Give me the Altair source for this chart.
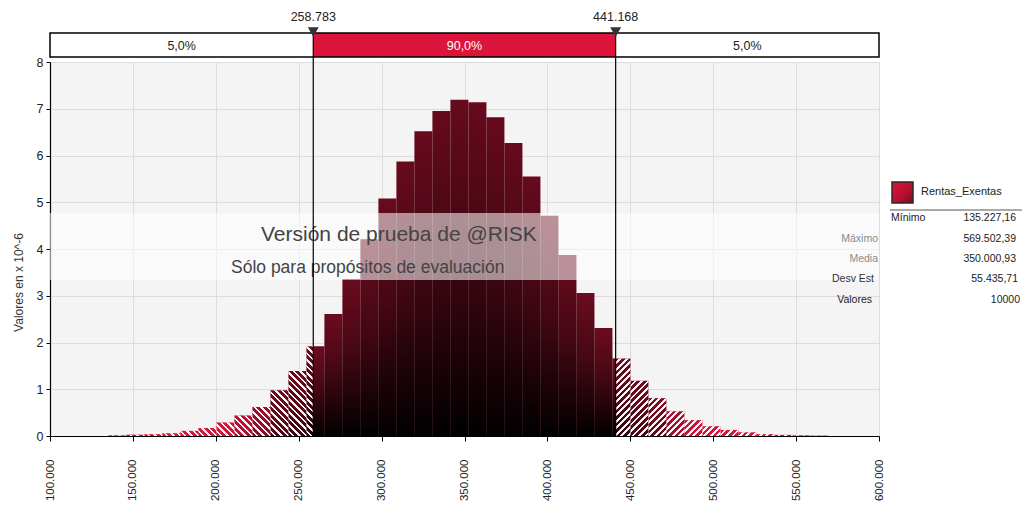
import altair as alt
import pandas as pd

# ---------------- data ----------------
X_MIN = 135227.16
X_MAX = 569502.39
N_BINS = 40
P5 = 258783.0
P95 = 441168.0

# density per bin (x 10^-6)
HEIGHTS = [0.015, 0.03, 0.04, 0.06, 0.11, 0.17, 0.29, 0.44, 0.62, 0.98, 1.39, 1.92,
           2.61, 3.36, 4.21, 5.08, 5.87, 6.52, 6.95, 7.19, 7.14, 6.82, 6.27, 5.55,
           4.71, 3.87, 3.06, 2.31, 1.66, 1.18, 0.81, 0.53, 0.34, 0.21, 0.13, 0.08,
           0.04, 0.025, 0.015, 0.01]

BAND_EDGES = [100000, P5, P95, 600000]
BAND_LABELS = ["5,0%", "90,0%", "5,0%"]
BAND_FILL = ["#ffffff", "#dc143c", "#ffffff"]
BAND_TEXT = ["#222222", "#ffffff", "#222222"]

X_TICKS = list(range(100000, 600001, 50000))
Y_TICKS = list(range(0, 9))

SERIES = "Rentas_Exentas"
STAT_LABELS = ["Mínimo", "Máximo", "Media", "Desv Est", "Valores"]
STAT_VALUES = ["135.227,16", "569.502,39", "350.000,93", "55.435,71", "10000"]

FONT = "Liberation Sans"

# ---------------- layout / style ----------------
W, H = 829, 374
X_DOM = [100000, 600000]
Y_DOM = [0, 8]
PXX = W / (X_DOM[1] - X_DOM[0])
PXY = H / (Y_DOM[1] - Y_DOM[0])
HATCH_PERIOD = 6.5   # px, horizontal spacing of hatch lines
HATCH_COLOR_FRAC = 0.58

# ---------------- tables ----------------
bw = (X_MAX - X_MIN) / N_BINS
rows = []
for i, h in enumerate(HEIGHTS):
    lo = X_MIN + i * bw
    hi = lo + bw
    for a, b, reg in [(lo, min(hi, P5), "L"), (max(lo, P5), min(hi, P95), "C"), (max(lo, P95), hi, "R")]:
        if b > a:
            rows.append(dict(x0=a, x1=b, h=h, reg=reg))
bars = pd.DataFrame(rows)
bars["sid"] = range(len(bars))

bands = pd.DataFrame({
    "a": BAND_EDGES[:-1], "b": BAND_EDGES[1:], "label": BAND_LABELS,
    "fill": BAND_FILL, "tcol": BAND_TEXT,
})
bands["mid"] = (bands["a"] + bands["b"]) / 2
pcts = pd.DataFrame({"p": [P5, P95]})
pcts["label"] = pcts["p"].map(lambda v: f"{v:,.0f}".replace(",", "."))
one = pd.DataFrame({"k": [0]})

xscale = alt.Scale(domain=X_DOM, nice=False, zero=False)
yscale = alt.Scale(domain=Y_DOM, nice=False)

X = alt.X("x0:Q", scale=xscale, title=None,
          axis=alt.Axis(values=X_TICKS, labelAngle=270, labelPadding=18, tickSize=5,
                        labelFontSize=11.5,
                        labelExpr="replace(format(datum.value, ','), ',', '.')",
                        grid=True))
Y = alt.Y("h:Q", scale=yscale, title="Valores en x 10^-6",
          axis=alt.Axis(values=Y_TICKS, tickSize=4, labelPadding=3, grid=True,
                        titleAngle=270, titleX=-32, titleY=220, titleBaseline="middle",
                        titleFontWeight="normal", titleFontSize=12, titleColor="#333333"))

base_bars = alt.Chart(bars).mark_bar(strokeWidth=0).encode(
    x=X, x2="x1:Q", y=Y, y2=alt.datum(0),
    color=alt.Color("h:Q", legend=None,
                    scale=alt.Scale(domain=[0, 0.3, 0.9, 8],
                                    range=["#dc143c", "#d3143b", "#6e0b20", "#650a1d"])),
)

shade = alt.LinearGradient(
    gradient="linear", x1=0, x2=0, y1=0, y2=1,
    stops=[alt.GradientStop(color="rgba(0,0,0,0)", offset=0),
           alt.GradientStop(color="rgba(0,0,0,0.35)", offset=0.45),
           alt.GradientStop(color="rgba(0,0,0,1)", offset=1)])
shade_c = alt.Chart(bars).transform_filter(alt.datum.reg == "C").mark_bar(
    fill=shade, strokeWidth=0).encode(x="x0:Q", x2="x1:Q", y="h:Q", y2=alt.datum(0))
shade_t = alt.Chart(bars).transform_filter(alt.datum.reg != "C").mark_bar(
    fill=shade, strokeWidth=0).encode(
    x="x0:Q", x2="x1:Q", y="h:Q", y2=alt.datum(0),
    opacity=alt.Opacity("h:Q", legend=None,
                        scale=alt.Scale(domain=[0.3, 2.0], range=[0, 0.7], clamp=True)),
)


def stripe_grad(n, frac, p1, p2):
    stops = []
    clear = "rgba(255,255,255,0)"
    white = "rgba(255,255,255,0.95)"
    k = 0
    while k / n < 1:
        a = k / n
        m = min((k + frac) / n, 1)
        b = min((k + 1) / n, 1)
        stops += [alt.GradientStop(color=clear, offset=a), alt.GradientStop(color=clear, offset=m)]
        if m < 1:
            stops += [alt.GradientStop(color=white, offset=m), alt.GradientStop(color=white, offset=b)]
        k += 1
    return alt.LinearGradient(gradient="linear", x1=p1[0], y1=p1[1], x2=p2[0], y2=p2[1], stops=stops)


hatch_layers = []
for _, r in bars[bars.reg != "C"].iterrows():
    w = (r.x1 - r.x0) * PXX
    hp = r.h * PXY
    L = w + hp
    n = L / HATCH_PERIOD
    kk = L / (w * w + hp * hp)
    if r.reg == "L":
        p1, p2 = (0, 1), (kk * w, 1 - kk * hp)
    else:
        p1, p2 = (0, 0), (kk * w, kk * hp)
    hatch_layers.append(
        alt.Chart(bars).transform_filter(alt.datum.sid == int(r.sid)).mark_bar(
            fill=stripe_grad(n, HATCH_COLOR_FRAC, p1, p2), strokeWidth=0).encode(
            x="x0:Q", x2="x1:Q", y="h:Q", y2=alt.datum(0)))

# watermark band + texts
wm_band = alt.Chart(one).mark_rect(fill="white", opacity=0.55).encode(
    x=alt.value(0), x2=alt.value(W), y=alt.value(151), y2=alt.value(218))
wm1 = alt.Chart(one).mark_text(text="Versión de prueba de @RISK", align="left", baseline="middle",
                               fontSize=21, color="#444444", font=FONT).encode(
    x=alt.value(211), y=alt.value(173))
wm2 = alt.Chart(one).mark_text(text="Sólo para propósitos de evaluación", align="left",
                               baseline="middle", fontSize=17.5, color="#444444", font=FONT).encode(
    x=alt.value(181), y=alt.value(206))

# top percentile band
band_rects = alt.Chart(bands).mark_rect(strokeWidth=0).encode(
    x="a:Q", x2="b:Q", y=alt.value(-29), y2=alt.value(-5),
    fill=alt.Fill("fill:N", scale=None))
band_frame = alt.Chart(one).mark_rect(fill=None, stroke="black", strokeWidth=1.5).encode(
    x=alt.datum(BAND_EDGES[0]), x2=alt.datum(BAND_EDGES[-1]), y=alt.value(-29), y2=alt.value(-5))
band_text = alt.Chart(bands).mark_text(fontSize=12.5, baseline="middle", font=FONT).encode(
    x="mid:Q", y=alt.value(-16), text="label:N", color=alt.Color("tcol:N", scale=None))
p_rules = alt.Chart(pcts).mark_rule(color="black", strokeWidth=1.2).encode(
    x="p:Q", y=alt.value(-29), y2=alt.value(H))
p_tri = alt.Chart(pcts).mark_point(shape="triangle-down", filled=True, color="#333333",
                                   size=120, opacity=1).encode(x="p:Q", y=alt.value(-30))
p_text = alt.Chart(pcts).mark_text(fontSize=12.5, baseline="middle", color="#222222", font=FONT).encode(
    x="p:Q", y=alt.value(-45), text="label:N")

# legend / stats panel
swatch_grad = alt.LinearGradient(
    gradient="linear", x1=0, y1=0, x2=1, y2=1,
    stops=[alt.GradientStop(color="#dc143c", offset=0),
           alt.GradientStop(color="#b5102f", offset=0.6),
           alt.GradientStop(color="#7a0a20", offset=1)])
swatch = alt.Chart(one).mark_rect(fill=swatch_grad, stroke="#2a2a2a", strokeWidth=1.5).encode(
    x=alt.value(842), x2=alt.value(863), y=alt.value(120), y2=alt.value(141))
leg_text = alt.Chart(one).mark_text(text=SERIES, align="left", baseline="middle", fontSize=11,
                                    color="#222222", font=FONT).encode(x=alt.value(871), y=alt.value(130))
leg_line = alt.Chart(one).mark_rule(color="#555555", strokeWidth=1).encode(
    x=alt.value(840), x2=alt.value(972), y=alt.value(148))

stat_layers = []
lab_pos = [(841, "left", "#222222"), (828, "right", "#8a8a8a"), (828, "right", "#8a8a8a"),
           (824, "right", "#333333"), (822, "right", "#222222")]
val_pos = [966, 966, 966, 968, 970]
row_y = [156, 177, 197, 217, 238]
for lab, val, (lx, la, lc), vx, ry in zip(STAT_LABELS, STAT_VALUES, lab_pos, val_pos, row_y):
    stat_layers.append(alt.Chart(one).mark_text(text=lab, align=la, baseline="middle", fontSize=10.5,
                                                color=lc, font=FONT).encode(x=alt.value(lx), y=alt.value(ry)))
    stat_layers.append(alt.Chart(one).mark_text(text=val, align="right", baseline="middle", fontSize=10.5,
                                                color="#222222", font=FONT).encode(x=alt.value(vx), y=alt.value(ry)))

chart = alt.layer(
    base_bars, shade_c, shade_t, *hatch_layers, wm_band, wm1, wm2,
    band_rects, band_frame, band_text, p_rules, p_tri, p_text,
    swatch, leg_text, leg_line, *stat_layers,
).properties(
    width=W, height=H,
    padding={"left": 42, "top": 54, "right": 143, "bottom": 67},
    autosize=alt.AutoSizeParams(type="none"),
    background="white",
).configure_view(
    fill="#f4f4f4", stroke=None,
).configure_axis(
    labelFont=FONT, titleFont=FONT, labelFontSize=12.5, labelColor="#222222",
    domainColor="black", domainWidth=1.2, tickColor="black",
    gridColor="#dcdcdc", gridWidth=1,
)

chart.save("out.html", embed_options={"renderer": "svg", "actions": False})
